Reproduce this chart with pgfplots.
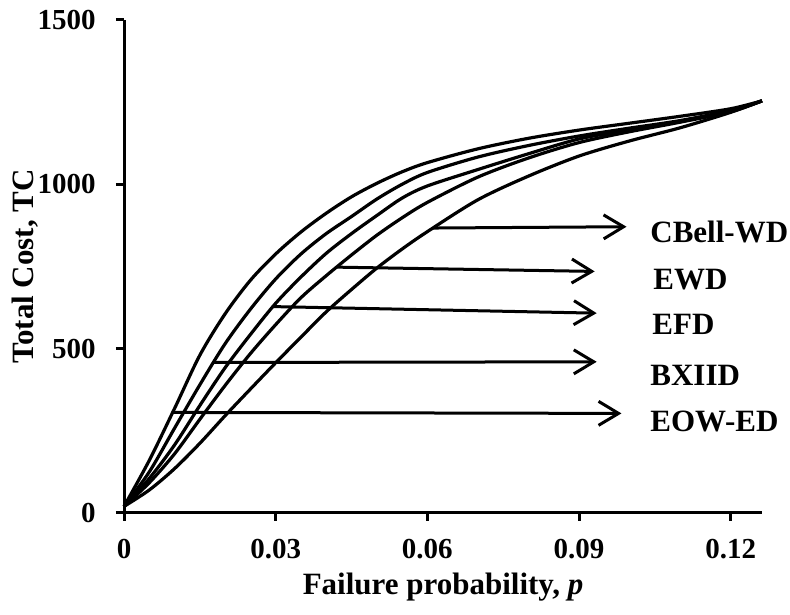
\documentclass[border=0pt]{standalone}
\usepackage{fontspec}
\setmainfont{Liberation Serif}
\usepackage{pgfplots}
\pgfplotsset{compat=1.18}
\usepackage{pgfplotstable}
\usetikzlibrary{arrows.meta}
\pgfplotstableread{
x      c1   c2   c3   c4   c5
0      20   20   20   20   20
0.005  160  125  105  92   70
0.010  318  258  207  180  135
0.015  480  390  327  285  212
0.020  606  515  442  388  296
0.025  708  620  543  485  377
0.030  788  712  638  573  457
0.035  855  788  718  655  535
0.040  912  850  790  722  612
0.045  962  902  850  785  680
0.050  1003 955  905  845  745
0.055  1038 1000 958  898  803
0.060  1066 1036 995  945  856
0.070  1108 1083 1045 1022 953
0.080  1140 1118 1093 1080 1025
0.090  1165 1147 1138 1127 1086
0.100  1186 1171 1166 1160 1132
0.110  1207 1194 1192 1189 1172
0.120  1230 1225 1223 1221 1219
0.1262 1254 1254 1254 1254 1254
}\tcdata
\begin{document}
\begin{tikzpicture}
\path[use as bounding box] (0,0) rectangle (395pt,307pt);
\begin{axis}[
  at={(62pt,50.5pt)}, anchor=south west,
  scale only axis, width=319pt, height=246.5pt,
  xmin=0, xmax=0.1262, ymin=0, ymax=1500,
  axis lines*=left,
  axis line style={line width=1.5pt, black},
  every tick/.style={black, line width=1.5pt},
  tick align=outside, major tick length=4pt,
  xtick={0,0.03,0.06,0.09,0.12}, xticklabels={0,0.03,0.06,0.09,0.12},
  ytick={0,500,1000,1500}, yticklabels={0,500,1000,1500},
  ticklabel style={font=\fontsize{14.5}{17}\selectfont\bfseries, inner sep=0pt},
  xticklabel shift=9pt,
  yticklabel shift=10pt,
  clip=false,
  arr/.style={black, line width=1.5pt, -{Straight Barb[length=10pt,width=12pt,line width=1.5pt]}},
  crv/.style={black, line width=1.6pt, smooth},
]
\addplot[crv] table[x=x, y=c1] {\tcdata};
\addplot[crv] table[x=x, y=c2] {\tcdata};
\addplot[crv] table[x=x, y=c3] {\tcdata};
\addplot[crv] table[x=x, y=c4] {\tcdata};
\addplot[crv] table[x=x, y=c5] {\tcdata};
\addplot[arr] coordinates {(0.0611,867) (0.0994,871)};
\addplot[arr] coordinates {(0.0421,748) (0.0931,735)};
\addplot[arr] coordinates {(0.0295,628) (0.0935,608)};
\addplot[arr] coordinates {(0.01766,458) (0.0935,460)};
\addplot[arr] coordinates {(0.00943,306) (0.0984,303)};
\end{axis}
\begin{scope}[font=\fontsize{15.5}{18}\selectfont\bfseries]
\node[anchor=base west, inner sep=0pt] at (325pt,185.5pt) {CBell-WD};
\node[anchor=base west, inner sep=0pt] at (326.5pt,162pt) {EWD};
\node[anchor=base west, inner sep=0pt] at (326pt,139.5pt) {EFD};
\node[anchor=base west, inner sep=0pt] at (325pt,114pt) {BXIID};
\node[anchor=base west, inner sep=0pt] at (325pt,91pt) {EOW-ED};
\node[anchor=base, inner sep=0pt] at (221.5pt,9.5pt) {Failure probability, \textit{p}};
\node[anchor=base, inner sep=0pt, rotate=90] at (16.5pt,173.75pt) {Total Cost, TC};
\end{scope}
\end{tikzpicture}
\end{document}
